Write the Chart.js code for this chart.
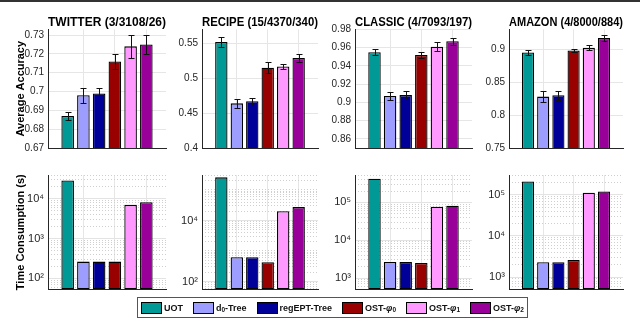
<!DOCTYPE html>
<html>
<head>
<meta charset="utf-8">
<script src="https://cdn.jsdelivr.net/npm/chart.js@4/dist/chart.umd.min.js"></script>
<style>
	body { margin: 0; background: #fff; font-family: 'Liberation Sans', Arial, sans-serif; }
	#wrap { position: relative; width: 640px; height: 320px; overflow: hidden; }
	#wrap canvas { position: absolute; }
	#topline { position: absolute; left: 0; top: 0; width: 640px; height: 2px; background: #333; }
	#legend { position: absolute; left: 137px; top: 297px; width: 383px; height: 19px; border: 1px solid #555;
		padding: 0 3px; display: flex; align-items: center; justify-content: space-between;
		font-size: 9px; font-weight: bold; color: #111; white-space: nowrap; }
	#legend .item { display: flex; align-items: center; }
	#legend .sw { width: 19px; height: 10px; border: 1px solid #000; margin-right: 2px; }
	#legend sub { font-size: 6.5px; position: relative; top: 2px; vertical-align: baseline; }
</style>
</head>
<body>
<div id="wrap">
	<div id="topline"></div>
	<canvas id="acc0"></canvas><canvas id="acc1"></canvas><canvas id="acc2"></canvas><canvas id="acc3"></canvas>
	<canvas id="time0"></canvas><canvas id="time1"></canvas><canvas id="time2"></canvas><canvas id="time3"></canvas>
	<div id="legend"></div>
</div>
<script>
// methods (legend order) and their colours
var seriesNames = [ 'UOT', 'd<sub>0</sub>-Tree', 'regEPT-Tree', 'OST-<i>&phi;</i><sub>0</sub>',
		'OST-<i>&phi;</i><sub>1</sub>', 'OST-<i>&phi;</i><sub>2</sub>' ];
var seriesColors = [ '#009995', '#9d9dff', '#000099', '#990000', '#ff99ff', '#990099' ];

var panelTitles = [ 'TWITTER (3/3108/26)', 'RECIPE (15/4370/340)', 'CLASSIC (4/7093/197)', 'AMAZON (4/8000/884)' ];

// average accuracy and error bar half-lengths
var accTwitter = [ 0.687, 0.698, 0.699, 0.716, 0.724, 0.725 ];
var errTwitter = [ 0.002, 0.004, 0.003, 0.004, 0.006, 0.005 ];
var accRecipe = [ 0.552, 0.464, 0.467, 0.515, 0.517, 0.529 ];
var errRecipe = [ 0.007, 0.006, 0.005, 0.008, 0.004, 0.006 ];
var accClassic = [ 0.955, 0.907, 0.908, 0.952, 0.961, 0.967 ];
var errClassic = [ 0.003, 0.004, 0.004, 0.003, 0.005, 0.004 ];
var accAmazon = [ 0.895, 0.828, 0.830, 0.898, 0.902, 0.917 ];
var errAmazon = [ 0.004, 0.008, 0.007, 0.003, 0.004, 0.005 ];

// time consumption (s)
var timeTwitter = [ 29000, 265, 265, 265, 7100, 8300 ];
var timeRecipe = [ 260000, 620, 620, 430, 20000, 27500 ];
var timeClassic = [ 420000, 2650, 2650, 2500, 77000, 82000 ];
var timeAmazon = [ 213000, 2300, 2300, 2600, 113000, 121000 ];

// axis limits and tick labels
var accMin = [ 0.67, 0.4, 0.85, 0.75 ];
var accMax = [ 0.733, 0.57, 0.98, 0.93 ];
var accTicks = [ [ 0.67, 0.68, 0.69, 0.7, 0.71, 0.72, 0.73 ], [ 0.4, 0.45, 0.5, 0.55 ],
		[ 0.86, 0.88, 0.9, 0.92, 0.94, 0.96, 0.98 ], [ 0.75, 0.8, 0.85, 0.9 ] ];
var timeMin = [ 53, 55, 500, 500 ];
var timeMax = [ 40000, 310000, 530000, 305000 ];
var timeTicks = [ [ 1e2, 1e3, 1e4 ], [ 1e2, 1e4 ], [ 1e3, 1e4, 1e5 ], [ 1e3, 1e4, 1e5 ] ];

var accData = [ accTwitter, accRecipe, accClassic, accAmazon ];
var errData = [ errTwitter, errRecipe, errClassic, errAmazon ];
var timeData = [ timeTwitter, timeRecipe, timeClassic, timeAmazon ];

// layout of the columns: canvas left, canvas width, y axis width
var colLeft = [ 0, 170, 325, 480 ];
var colWidth = [ 170, 152, 151, 147 ];
var axisWidth = [ 48, 32, 30, 29 ];

var FONT = "'Liberation Sans', Arial, sans-serif";
var SUP = { 1: '¹', 2: '²', 3: '³', 4: '⁴', 5: '⁵', 6: '⁶' };

var errorBarPlugin = {
	id : 'errorBars',
	afterDatasetsDraw : function(c) {
		var ds = c.data.datasets[0];
		if (!ds.errors) return;
		var ctx = c.ctx, meta = c.getDatasetMeta(0), y = c.scales.y;
		ctx.save();
		ctx.strokeStyle = '#111';
		ctx.lineWidth = 1;
		meta.data.forEach(function(bar, k) {
			var v = ds.data[k].y, e = ds.errors[k];
			var top = Math.round(y.getPixelForValue(v + e)) + 0.5;
			var bot = Math.round(y.getPixelForValue(v - e)) + 0.5;
			var x = Math.round(bar.x) + 0.5;
			ctx.beginPath();
			ctx.moveTo(x, top); ctx.lineTo(x, bot);
			ctx.moveTo(x - 3, top); ctx.lineTo(x + 3, top);
			ctx.moveTo(x - 3, bot); ctx.lineTo(x + 3, bot);
			ctx.stroke();
		});
		ctx.restore();
	}
};

var chart = {

	xScale : function() {
		return {
			type : 'linear',
			min : -0.25,
			max : 7.25,
			offset : false,
			grid : { offset : false, color : '#e6e6e6', drawTicks : false },
			ticks : { display : false },
			border : { color : '#262626', width : 1 },
			afterBuildTicks : function(s) { s.ticks = [ 2, 4, 6 ].map(function(v) { return { value : v }; }); },
			afterFit : function(s) { s.height = 0; }
		};
	},

	dataset : function(values, errors) {
		return {
			data : values.map(function(v, k) { return { x : k + 1, y : v }; }),
			errors : errors,
			backgroundColor : seriesColors,
			borderColor : '#000',
			borderWidth : 1.3,
			borderSkipped : false,
			barPercentage : 0.8,
			categoryPercentage : 1
		};
	},

	place : function(id, col, top, height) {
		var cv = document.getElementById(id);
		cv.width = colWidth[col];
		cv.height = height;
		cv.style.left = colLeft[col] + 'px';
		cv.style.top = top + 'px';
		return cv;
	},

	renderAcc : function(col) {
		var cv = chart.place('acc' + col, col, 0, 158);
		var ticks = accTicks[col];
		return new Chart(cv, {
			type : 'bar',
			data : { datasets : [ chart.dataset(accData[col], errData[col]) ] },
			plugins : [ errorBarPlugin ],
			options : {
				responsive : false,
				animation : false,
				devicePixelRatio : 1,
				layout : { padding : { top : 0, bottom : 9, right : 4, left : 0 } },
				plugins : {
					legend : { display : false },
					tooltip : { enabled : false },
					title : {
						display : true,
						fullSize : false,
						text : panelTitles[col],
						color : '#000',
						font : { family : FONT, size : 12, weight : 'bold' },
						padding : { top : 15, bottom : 0 }
					}
				},
				scales : {
					x : chart.xScale(),
					y : {
						min : accMin[col],
						max : accMax[col],
						grid : { color : '#e6e6e6', drawTicks : false },
						border : { color : '#262626', width : 1 },
						ticks : {
							color : '#262626',
							padding : 4,
							font : { family : FONT, size : 10 },
							callback : function(v) { return String(+v.toFixed(3)); }
						},
						afterBuildTicks : function(s) { s.ticks = ticks.map(function(v) { return { value : v }; }); },
						afterFit : function(s) { s.width = axisWidth[col]; },
						title : {
							display : col === 0,
							text : 'Average Accuracy',
							color : '#000',
							font : { family : FONT, size : 11, weight : 'bold' },
							padding : { top : 14, bottom : 0 }
						}
					}
				}
			}
		});
	},

	renderTime : function(col) {
		var cv = chart.place('time' + col, col, 160, 140);
		var majors = timeTicks[col], lo = timeMin[col], hi = timeMax[col];
		var minors = [];
		for (var p = Math.floor(Math.log10(lo)); p <= Math.ceil(Math.log10(hi)); p++) {
			for (var k = 1; k <= 9; k++) {
				var v = k * Math.pow(10, p);
				if (v >= lo && v <= hi && majors.indexOf(v) < 0) minors.push(v);
			}
		}
		return new Chart(cv, {
			type : 'bar',
			data : { datasets : [ chart.dataset(timeData[col], null) ] },
			options : {
				responsive : false,
				animation : false,
				devicePixelRatio : 1,
				layout : { padding : { top : 15, bottom : 7, right : 4, left : 0 } },
				plugins : {
					legend : { display : false },
					tooltip : { enabled : false }
				},
				scales : {
					x : chart.xScale(),
					ym : {
						type : 'logarithmic',
						position : 'left',
						min : lo,
						max : hi,
						grid : { color : '#cfcfcf', drawTicks : false },
						border : { display : false, dash : [ 1, 2 ] },
						ticks : { display : false },
						afterBuildTicks : function(s) { s.ticks = minors.map(function(v) { return { value : v }; }); },
						afterFit : function(s) { s.width = 0; }
					},
					y : {
						type : 'logarithmic',
						position : 'left',
						min : lo,
						max : hi,
						grid : { color : '#e3e3e3', drawTicks : false },
						border : { color : '#262626', width : 1 },
						ticks : {
							color : '#262626',
							padding : 4,
							font : { family : FONT, size : 11 },
							callback : function(v) { return '10' + SUP[Math.round(Math.log10(v))]; }
						},
						afterBuildTicks : function(s) { s.ticks = majors.map(function(v) { return { value : v }; }); },
						afterFit : function(s) { s.width = axisWidth[col]; },
						title : {
							display : col === 0,
							text : 'Time Consumption (s)',
							color : '#000',
							font : { family : FONT, size : 11, weight : 'bold' },
							padding : { top : 14, bottom : 0 }
						}
					}
				}
			}
		});
	},

	renderLegend : function() {
		var html = '';
		seriesNames.forEach(function(name, k) {
			html += '<span class="item"><span class="sw" style="background:' + seriesColors[k] + '"></span>' + name + '</span>';
		});
		document.getElementById('legend').innerHTML = html;
	}
};

for (var c = 0; c < 4; c++) {
	chart.renderAcc(c);
	chart.renderTime(c);
}
chart.renderLegend();
</script>
</body>
</html>
